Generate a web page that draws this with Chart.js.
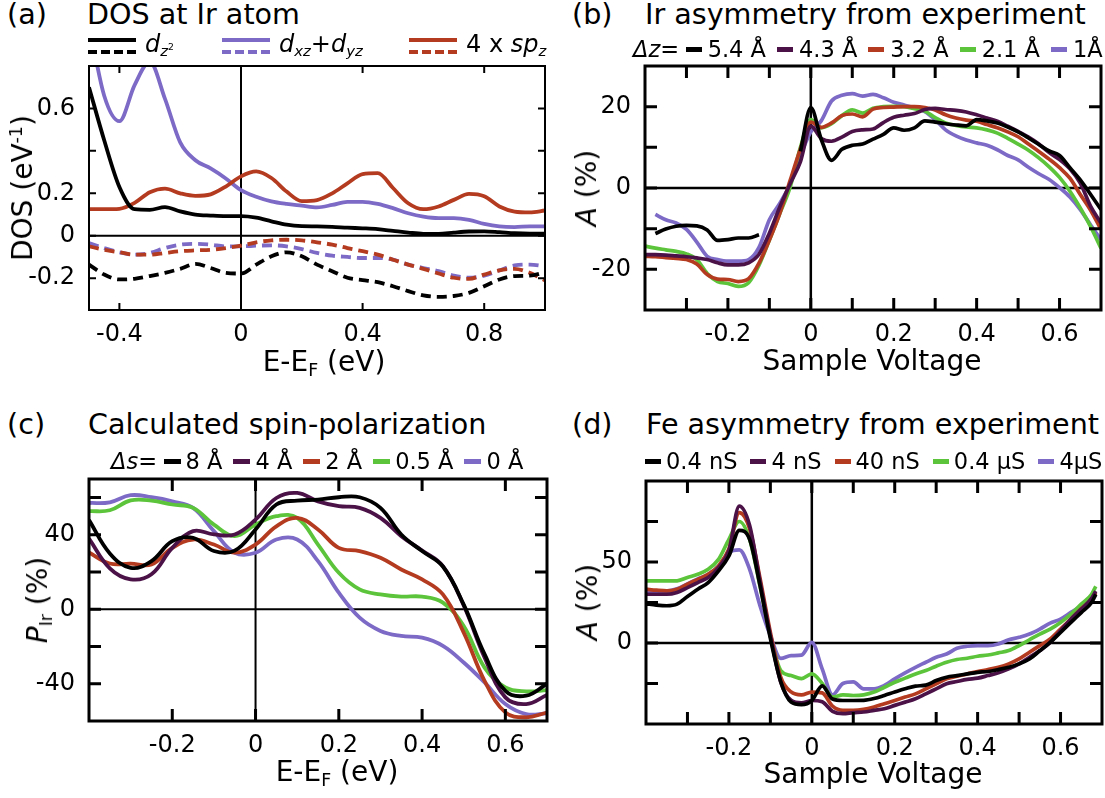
<!DOCTYPE html>
<html>
<head>
<meta charset="utf-8">
<script src="https://cdn.jsdelivr.net/npm/chart.js@4.4.1/dist/chart.umd.min.js"></script>
<style>
  html, body { margin: 0; padding: 0; background: #fff; }
  body { width: 1105px; height: 798px; position: relative; overflow: hidden;
         font-family: 'DejaVu Sans', sans-serif; color: #000; }
  .panel { position: absolute; }
  .txt { position: absolute; white-space: nowrap; line-height: 1; }
  .title { font-size: 28.6px; }
  .axt { font-size: 28px; }
  .cx { transform: translateX(-50%); }
  .rot { transform: translate(-50%, -50%) rotate(-90deg); }
  sub { font-size: 62%; vertical-align: -0.3em; line-height: 0; }
  sup { font-size: 62%; vertical-align: 0.6em; line-height: 0; }
  .leg { position: absolute; display: flex; align-items: center; height: 22px;
         font-size: 22.5px; line-height: 1; white-space: nowrap; }
  .sw { display: inline-block; }
  .lega { position: absolute; font-size: 24px; line-height: 1; white-space: nowrap; }
</style>
</head>
<body>

<div class="txt title" style="left:7px;top:0px">(a)</div>
<div class="txt title" style="left:87px;top:0px">DOS at Ir atom</div>
<div class="txt title" style="left:572px;top:0px">(b)</div>
<div class="txt title" style="left:645px;top:0px">Ir asymmetry from experiment</div>
<div class="txt title" style="left:7px;top:410px">(c)</div>
<div class="txt title" style="left:88px;top:410px">Calculated spin-polarization</div>
<div class="txt title" style="left:572px;top:410px">(d)</div>
<div class="txt title" style="left:646px;top:410px">Fe asymmetry from experiment</div>

<div class="panel" id="pa"><canvas id="ca"></canvas></div>
<div class="panel" id="pb"><canvas id="cb"></canvas></div>
<div class="panel" id="pc"><canvas id="cc"></canvas></div>
<div class="panel" id="pd"><canvas id="cd"></canvas></div>

<div class="txt axt cx" style="left:324px;top:348px">E-E<sub>F</sub> (eV)</div>
<div class="txt axt cx" style="left:872px;top:347px">Sample Voltage</div>
<div class="txt axt cx" style="left:337px;top:758px">E-E<sub>F</sub> (eV)</div>
<div class="txt axt cx" style="left:873px;top:760px">Sample Voltage</div>
<div class="txt axt rot" style="left:23px;top:188px">DOS (eV<sup>-1</sup>)</div>
<div class="txt axt rot" style="left:587px;top:188px"><i>A</i> (%)</div>
<div class="txt axt rot" style="left:38px;top:600px"><i>P</i><sub>Ir</sub> (%)</div>
<div class="txt axt rot" style="left:588px;top:602px"><i>A</i> (%)</div>

<div id="legA"></div>
<div class="leg" id="legB" style="left:633px;top:38px"></div>
<div class="leg" id="legC" style="left:111px;top:450px"></div>
<div class="leg" id="legD" style="left:645px;top:450px"></div>

<script>
// ---- colours
const BLACK = '#000000', PLUM = '#4b1248', RUST = '#b43b1f', GREEN = '#5cc43a', LAV = '#7c6ac6';

// ---- (a) DOS at Ir atom
const xA = [-0.5, -0.45, -0.4, -0.35, -0.3, -0.25, -0.2, -0.15, -0.1, -0.05, 0, 0.05, 0.1, 0.15, 0.2,
            0.25, 0.3, 0.35, 0.4, 0.45, 0.5, 0.55, 0.6, 0.65, 0.7, 0.75, 0.8, 0.85, 0.9, 0.95, 1.0];
const dz2Up = [0.70, 0.45, 0.23, 0.125, 0.122, 0.135, 0.115, 0.10, 0.095, 0.092, 0.092, 0.085, 0.068, 0.052, 0.045,
               0.044, 0.042, 0.038, 0.035, 0.031, 0.023, 0.015, 0.009, 0.009, 0.015, 0.02, 0.021, 0.017, 0.012, 0.01, 0.01];
const dxzUp = [1.0, 0.66, 0.54, 0.71, 0.82, 0.645, 0.44, 0.356, 0.317, 0.27, 0.215, 0.184, 0.162, 0.15, 0.142,
               0.134, 0.145, 0.16, 0.16, 0.15, 0.13, 0.106, 0.09, 0.083, 0.083, 0.075, 0.056, 0.044, 0.041, 0.044, 0.044];
const spzUp = [0.125, 0.125, 0.127, 0.155, 0.205, 0.222, 0.2, 0.188, 0.195, 0.232, 0.28, 0.303, 0.272, 0.208, 0.163,
               0.168, 0.2, 0.247, 0.29, 0.295, 0.225, 0.153, 0.125, 0.138, 0.169, 0.197, 0.186, 0.138, 0.114, 0.11, 0.119];
const dz2Dn = [-0.136, -0.183, -0.206, -0.203, -0.19, -0.175, -0.156, -0.133, -0.152, -0.175, -0.178, -0.136, -0.097, -0.078, -0.097,
               -0.136, -0.167, -0.198, -0.209, -0.219, -0.238, -0.261, -0.281, -0.288, -0.284, -0.269, -0.238, -0.206, -0.19, -0.188, -0.172];
const dxzDn = [-0.034, -0.058, -0.078, -0.089, -0.081, -0.058, -0.042, -0.038, -0.042, -0.05, -0.05, -0.047, -0.045, -0.05, -0.063,
               -0.081, -0.094, -0.1, -0.105, -0.105, -0.113, -0.136, -0.152, -0.167, -0.188, -0.198, -0.188, -0.163, -0.14, -0.136, -0.144];
const spzDn = [-0.05, -0.066, -0.078, -0.089, -0.089, -0.081, -0.073, -0.069, -0.066, -0.058, -0.047, -0.031, -0.022, -0.019, -0.022,
               -0.031, -0.042, -0.058, -0.073, -0.089, -0.113, -0.136, -0.156, -0.178, -0.198, -0.203, -0.183, -0.163, -0.156, -0.175, -0.211];
const namesA = ['<i>d</i><sub><i>z</i><sup>2</sup></sub>',
                '<i>d</i><sub><i>xz</i></sub>+<i>d</i><sub><i>yz</i></sub>',
                '4 x <i>sp</i><sub><i>z</i></sub>'];
const colorsA = [BLACK, LAV, RUST];
const xTickA = [-0.4, 0, 0.4, 0.8], xLabA = ['-0.4', '0', '0.4', '0.8'];
const yTickA = [-0.2, 0, 0.2, 0.4, 0.6];
const yLabValA = [-0.2, 0, 0.2, 0.6], yLabA = ['-0.2', '0', '0.2', '0.6'];

// ---- (b) Ir asymmetry from experiment
const xB = [-0.4, -0.375, -0.35, -0.325, -0.3, -0.275, -0.25, -0.225, -0.2, -0.175, -0.15, -0.125, -0.1, -0.075, -0.05,
            -0.025, 0, 0.025, 0.05, 0.075, 0.1, 0.125, 0.15, 0.175, 0.2, 0.225, 0.25, 0.275, 0.3, 0.325,
            0.35, 0.375, 0.4, 0.425, 0.45, 0.475, 0.5, 0.525, 0.55, 0.575, 0.6, 0.625, 0.65, 0.675, 0.7];
const dz54 = [null, -11.2, -10.1, -9.4, -9.2, -9.3, -10.3, -12.9, -12.7, -12.3, -12.3, -11.5, null, null, null,
              9, 19.8, 12, 6.8, 9.5, 10.5, 10.8, 12, 13.2, 14.8, 14.2, 14.8, 16.5, 16.2, 15.8,
              15.5, 15.3, 16.8, 16.5, 16, 15, 13.8, 12.3, 10.7, 9.1, 8, 5, 2, -1.6, -5.3];
const dz43 = [-16.4, -16.4, -16.5, -16.7, -16.9, -17.2, -17.6, -18.4, -18.9, -18.9, -18.4, -16.3, -11.1, -4.7, 1.0,
              6.5, 15.2, 12.2, 11.5, 12.5, 13.9, 14.3, 14.5, 16.1, 17.4, 17.9, 18.3, 19.3, 19.6, 19.3,
              19.1, 18.7, 18, 17.2, 16.4, 15.2, 13.9, 12.5, 10.8, 8.7, 7, 4.7, 1.2, -4.5, -8.6];
const dz32 = [-16.8, -16.9, -17.1, -17.3, -17.6, -18.7, -21.3, -22.4, -22.5, -23, -22.3, -18.5, -12.8, -6.3, 1.8,
              9.6, 16.2, 14.9, 16, 17.8, 18.2, 17.5, 19.4, 19.8, 19.9, 20, 20, 19.8, 19.2, 18,
              17.2, 16.7, 16.4, 15.6, 14.8, 13.8, 12.6, 10.8, 9, 7.1, 5, 2.4, -1.6, -5.5, -10.2];
const dz21 = [-14.3, -14.8, -15.2, -15.6, -16.2, -17.6, -21, -23, -23.5, -24.2, -23.3, -19, -12.8, -6.3, 0.2,
              10, 16.8, 14.8, 15.8, 17.8, 19.2, 18.4, 19.6, 20, 20.1, 20, 19.5, 18.9, 17.3, 16,
              15.4, 15, 14.8, 14.3, 13.5, 12.2, 10.8, 9.3, 7.4, 5.2, 2.6, -0.8, -4.9, -9.5, -14.8];
const dz10 = [null, -6.5, -7.8, -8.6, -10.2, -13.3, -16.8, -17.6, -18, -18, -17.6, -14.6, -7.8, -3.8, 1.0,
              8, 13.8, 16.5, 21.4, 22.8, 23.2, 22.6, 23, 22.2, 21.1, 20.4, 19.7, 18.8, 16.8, 14.3,
              12.8, 11.8, 11.1, 10.5, 9.4, 8, 6.9, 5.1, 3.5, 2.1, 0.1, -2.2, -5.3, -9.1, -12.7];
const namesB = ['5.4 Å', '4.3 Å', '3.2 Å', '2.1 Å', '1Å'];
const colorsB = [BLACK, PLUM, RUST, GREEN, LAV];
const xTickB = [-0.3, -0.2, -0.1, 0, 0.1, 0.2, 0.3, 0.4, 0.5, 0.6];
const xLabValB = [-0.2, 0, 0.2, 0.4, 0.6], xLabB = ['-0.2', '0', '0.2', '0.4', '0.6'];
const yTickB = [-20, -10, 0, 10, 20];
const yLabValB = [-20, 0, 20], yLabB = ['-20', '0', '20'];

// ---- (c) Calculated spin-polarization
const xC = [-0.4, -0.35, -0.3, -0.25, -0.2, -0.15, -0.1, -0.05, 0, 0.05, 0.1, 0.15,
            0.2, 0.25, 0.3, 0.35, 0.4, 0.45, 0.5, 0.55, 0.6, 0.65, 0.7];
const ds8  = [48, 30, 22.3, 25.9, 36.6, 38.4, 31.3, 31.5, 42.9, 56.3, 58.4, 58.9,
              60.2, 60.2, 54.5, 40.2, 31.3, 23, 2.5, -24.1, -43.8, -46.4, -40];
const ds4  = [38, 22, 16.1, 18.8, 33, 42, 40.2, 40.2, 48.2, 59.8, 62.5, 58,
              55.4, 54.5, 49.1, 39.3, 31.6, 23.2, 2, -25.9, -47.3, -50.9, -46];
const ds2  = [30.5, 24.6, 24.5, 24.1, 33, 37.5, 34.8, 30.4, 34.8, 44.6, 49.1, 42.9,
              33, 31.3, 27.7, 21.4, 16.1, 8, -12.5, -38.4, -55.4, -58, -55.5];
const ds05 = [52.7, 53.2, 58.5, 58.4, 56.3, 54.5, 45.5, 39.3, 45.5, 50, 49.1, 34.8,
              19.6, 10.7, 8, 6.8, 6.8, 3.6, -9, -31.3, -42, -44.1, -43.4];
const ds0  = [57.1, 57.5, 61.3, 60.2, 58, 54.5, 42, 30.4, 30.4, 37.5, 37.5, 25.9,
              8.9, -4.5, -11.6, -14.3, -15.2, -19.6, -28.6, -39.3, -50.9, -56.3, -55.9];
const namesC = ['8 Å', '4 Å', '2 Å', '0.5 Å', '0 Å'];
const colorsC = [BLACK, PLUM, RUST, GREEN, LAV];
const xTickC = [-0.2, 0, 0.2, 0.4, 0.6], xLabC = ['-0.2', '0', '0.2', '0.4', '0.6'];
const yTickC = [-40, -20, 0, 20, 40, 60];
const yLabValC = [-40, 0, 40], yLabC = ['-40', '0', '40'];

// ---- (d) Fe asymmetry from experiment
const xD = [-0.4, -0.375, -0.35, -0.325, -0.3, -0.275, -0.25, -0.225, -0.2, -0.175, -0.15, -0.125, -0.1, -0.075, -0.05,
            -0.025, 0, 0.025, 0.05, 0.075, 0.1, 0.125, 0.15, 0.175, 0.2, 0.225, 0.25, 0.275, 0.3, 0.325,
            0.35, 0.375, 0.4, 0.425, 0.45, 0.475, 0.5, 0.525, 0.55, 0.575, 0.6, 0.625, 0.65, 0.675, 0.685];
const g04n = [24.2, 23.4, 23, 24, 28.7, 33.2, 37.3, 44.5, 53.7, 69.5, 64, 35.5, 2.8, -23.8, -36.4,
              -38, -35.5, -26.5, -34.6, -35.5, -35.5, -35.4, -34.3, -32.4, -30.3, -28.3, -26.6, -26, -23.2, -21.1,
              -20.1, -19.1, -18.1, -17.6, -16.4, -15, -12.9, -9.9, -4.8, 0.4, 6.5, 12.7, 18.8, 25, 30];
const g4n  = [30.1, 30.1, 30.1, 31.2, 34.2, 37.3, 40.4, 46.6, 57, 84.5, 72.5, 38, 4.6, -24.2, -35.3,
              -36.9, -35.5, -36.3, -42.2, -43.6, -43, -42.6, -41.6, -40.6, -38.5, -36.5, -34.4, -31.4, -28.3, -25.2,
              -23.8, -22.5, -21.7, -20.1, -18.4, -16, -12.9, -8.8, -4.7, 0.4, 7.6, 14.8, 20.9, 27.5, 32];
const g40n = [33.2, 32.6, 32.2, 33.2, 36.3, 39.3, 42.4, 47.5, 58, 80.5, 70.5, 40, 6.6, -21, -30.2,
              -32, -30.3, -30.8, -39, -41.6, -41.6, -41, -39.5, -37.5, -35.5, -33.4, -31.4, -28.3, -25.2, -22.1,
              -20.5, -19.1, -17.6, -16.4, -15, -12.9, -9.8, -5.7, -1.6, 2.5, 8.6, 14.8, 21.3, 27, 31];
const g04u = [38.3, 38.3, 38.3, 38.4, 40.4, 42.4, 45.5, 51.6, 64, 75, 64, 35.2, 4.5, -17, -20.1,
              -22, -19.1, -25, -33.4, -32, -32.4, -32, -30.3, -27.3, -24.2, -21.7, -19.1, -17, -14.3, -11.9,
              -10.2, -9.4, -8.2, -7.4, -6.1, -4.7, -1.6, 2, 5.5, 8.6, 12.7, 17.8, 24, 30.1, 35];
const g4u  = [31.5, 31.5, 32, 33.5, 36.5, 39.5, 42.4, 47.5, 56, 57.5, 45.5, 23, 4.5, -9.5, -7.8,
              -7.5, 0.4, -16, -32, -25, -24, -28.3, -28.3, -26.2, -22.1, -18.4, -15, -11.9, -8.8, -6.8,
              -3.3, -2, -1.6, -1.6, -0.6, 2, 3.5, 5.5, 8.6, 12.3, 14.8, 18.9, 23, 28.1, 31];
const namesD = ['0.4 nS', '4 nS', '40 nS', '0.4 µS', '4µS'];
const colorsD = [BLACK, PLUM, RUST, GREEN, LAV];
const xTickD = [-0.3, -0.2, -0.1, 0, 0.1, 0.2, 0.3, 0.4, 0.5, 0.6];
const xLabValD = [-0.2, 0, 0.2, 0.4, 0.6], xLabD = ['-0.2', '0', '0.2', '0.4', '0.6'];
const yTickD = [-25, 0, 25, 50, 75];
const yLabValD = [0, 50], yLabD = ['0', '50'];

// ---- frame: box, inward ticks on four sides, zero lines
const framePlugin = {
  id: 'frame',
  beforeDatasetsDraw(chart, args, o) {
    const { ctx, chartArea: a, scales: { x, y } } = chart;
    const x0 = x.getPixelForValue(0), y0 = y.getPixelForValue(0);
    ctx.save();
    ctx.strokeStyle = '#000';
    ctx.lineWidth = o.zero;
    ctx.beginPath();
    ctx.moveTo(x0, a.top); ctx.lineTo(x0, a.bottom);
    ctx.moveTo(a.left, y0); ctx.lineTo(a.right, y0);
    ctx.stroke();
    ctx.restore();
  },
  afterDatasetsDraw(chart, args, o) {
    const { ctx, chartArea: a, scales: { x, y } } = chart;
    ctx.save();
    ctx.strokeStyle = '#000';
    ctx.lineWidth = o.border;
    ctx.beginPath();
    o.xTicks.forEach(v => {
      const p = x.getPixelForValue(v);
      ctx.moveTo(p, a.bottom); ctx.lineTo(p, a.bottom - o.len);
      ctx.moveTo(p, a.top); ctx.lineTo(p, a.top + o.len);
    });
    o.yTicks.forEach(v => {
      const p = y.getPixelForValue(v);
      ctx.moveTo(a.left, p); ctx.lineTo(a.left + o.len, p);
      ctx.moveTo(a.right, p); ctx.lineTo(a.right - o.len, p);
    });
    ctx.stroke();
    ctx.strokeRect(a.left, a.top, a.right - a.left, a.bottom - a.top);
    ctx.restore();
  }
};

// smooth = true -> bezier through points, otherwise monotone cubic
function line(xs, ys, color, width, dash, smooth) {
  return {
    data: xs.map((x, i) => ({ x: x, y: ys[i] })),
    borderColor: color, borderWidth: width, borderDash: dash || [],
    pointRadius: 0, fill: false, spanGaps: false,
    cubicInterpolationMode: smooth ? 'default' : 'monotone', tension: smooth ? 0.4 : 0
  };
}

// box = container [left, top, w, h]; area = plot rectangle [left, top, right, bottom]
function panel(divId, canvasId, box, area, datasets, ax) {
  const div = document.getElementById(divId);
  div.style.left = box[0] + 'px'; div.style.top = box[1] + 'px';
  div.style.width = box[2] + 'px'; div.style.height = box[3] + 'px';
  const yW = area[0] - box[0];
  const xH = box[1] + box[3] - area[3];
  const zeroPad = s => { s.paddingTop = 0; s.paddingBottom = 0; s.paddingLeft = 0; s.paddingRight = 0; };
  const tickFont = { family: "'DejaVu Sans', sans-serif", size: 24 };
  return new Chart(document.getElementById(canvasId), {
    type: 'line',
    data: { datasets: datasets },
    options: {
      animation: false, responsive: true, maintainAspectRatio: false,
      layout: { padding: { left: 0, bottom: 0, top: area[1] - box[1], right: box[0] + box[2] - area[2] } },
      plugins: { legend: { display: false }, tooltip: { enabled: false },
                 frame: { border: ax.border, len: ax.len, zero: ax.zero, xTicks: ax.xTicks, yTicks: ax.yTicks } },
      scales: {
        x: {
          type: 'linear', min: ax.xMin, max: ax.xMax,
          grid: { display: false }, border: { display: false },
          ticks: { color: '#000', font: tickFont, padding: 2, autoSkip: false, maxRotation: 0,
                   callback: (v, i) => ax.xLab[i] },
          afterBuildTicks: s => { s.ticks = ax.xLabVal.map(v => ({ value: v })); },
          afterFit: s => { s.height = xH; zeroPad(s); }
        },
        y: {
          type: 'linear', min: ax.yMin, max: ax.yMax,
          grid: { display: false }, border: { display: false },
          ticks: { color: '#000', font: tickFont, padding: 6, autoSkip: false,
                   callback: (v, i) => ax.yLab[i] },
          afterBuildTicks: s => { s.ticks = ax.yLabVal.map(v => ({ value: v })); },
          afterFit: s => { s.width = yW; zeroPad(s); }
        }
      }
    },
    plugins: [framePlugin]
  });
}

panel('pa', 'ca', [0, 0, 560, 390], [89, 66, 545, 310], [
  line(xA, dz2Up, BLACK, 3.8), line(xA, spzUp, RUST, 3.8), line(xA, dxzUp, LAV, 3.8),
  line(xA, dz2Dn, BLACK, 3.8, [10, 6]), line(xA, spzDn, RUST, 3.8, [10, 6]), line(xA, dxzDn, LAV, 3.8, [10, 6])
], { xMin: -0.5, xMax: 1.0, yMin: -0.35, yMax: 0.8, border: 2, len: 7, zero: 2,
     xTicks: xTickA, yTicks: yTickA, xLabVal: xTickA, xLab: xLabA, yLabVal: yLabValA, yLab: yLabA });

panel('pb', 'cb', [560, 0, 545, 390], [645, 66, 1101, 310],
  [dz54, dz43, dz32, dz21, dz10].map((ys, i) => line(xB, ys, colorsB[i], 3.7)),
  { xMin: -0.4, xMax: 0.7, yMin: -30, yMax: 30, border: 3, len: 12, zero: 2.5,
    xTicks: xTickB, yTicks: yTickB, xLabVal: xLabValB, xLab: xLabB, yLabVal: yLabValB, yLab: yLabB });

panel('pc', 'cc', [0, 390, 560, 408], [89, 479, 547, 721],
  [ds8, ds4, ds2, ds05, ds0].map((ys, i) => line(xC, ys, colorsC[i], 3.8, null, true)),
  { xMin: -0.4, xMax: 0.7, yMin: -60, yMax: 70, border: 3, len: 12, zero: 2,
    xTicks: xTickC, yTicks: yTickC, xLabVal: xTickC, xLab: xLabC, yLabVal: yLabValC, yLab: yLabC });

panel('pd', 'cd', [560, 390, 545, 408], [646, 481, 1102, 724],
  [g04n, g4n, g40n, g04u, g4u].map((ys, i) => line(xD, ys, colorsD[i], 3.7)),
  { xMin: -0.4, xMax: 0.7, yMin: -50, yMax: 100, border: 3, len: 12, zero: 2.5,
    xTicks: xTickD, yTicks: yTickD, xLabVal: xLabValD, xLab: xLabD, yLabVal: yLabValD, yLab: yLabD });

// ---- legends
function rowLegend(id, prefix, names, colors, sw, gapIn, gapOut) {
  const el = document.getElementById(id);
  let html = prefix ? '<span style="margin-right:' + gapOut * 0.6 + 'px">' + prefix + '</span>' : '';
  names.forEach((n, i) => {
    html += '<span class="sw" style="width:' + sw + 'px;height:5px;background:' + colors[i] +
            ';margin-right:' + gapIn + 'px"></span>';
    html += '<span style="margin-right:' + (i < names.length - 1 ? gapOut : 0) + 'px">' + n + '</span>';
  });
  el.innerHTML = html;
}
rowLegend('legB', '<i>Δz</i>=', namesB, colorsB, 16, 6, 11);
rowLegend('legC', '<i>Δs</i>=', namesC, colorsC, 17, 5, 11);
rowLegend('legD', '', namesD, colorsD, 16, 5, 13);

(function () {
  const lefts = [88, 222, 409];
  const el = document.getElementById('legA');
  let html = '';
  namesA.forEach((n, i) => {
    const c = colorsA[i];
    html += '<svg style="position:absolute;left:' + lefts[i] + 'px;top:35px" width="48" height="22">' +
            '<line x1="0" y1="5" x2="48" y2="5" stroke="' + c + '" stroke-width="4"/>' +
            '<line x1="0" y1="17" x2="48" y2="17" stroke="' + c + '" stroke-width="4" stroke-dasharray="9,4"/></svg>';
    html += '<div class="lega" style="left:' + (lefts[i] + 57) + 'px;top:32px">' + n + '</div>';
  });
  el.innerHTML = html;
})();
</script>
</body>
</html>
